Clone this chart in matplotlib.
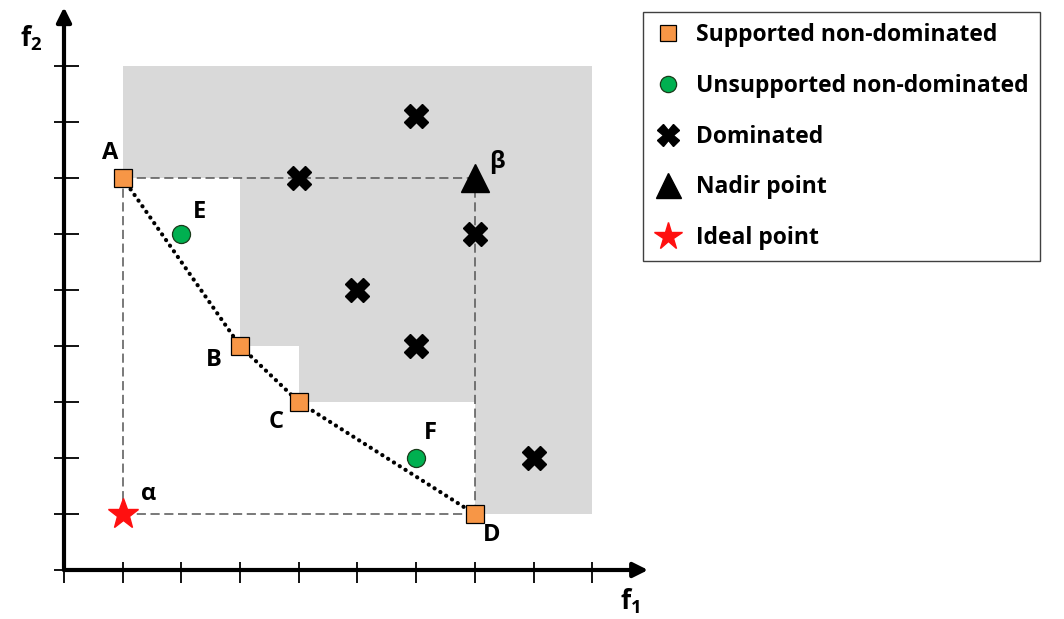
import matplotlib
matplotlib.use('Agg')
import matplotlib.pyplot as plt

plt.rcParams['font.family'] = ['Open Sans', 'DejaVu Sans']
plt.rcParams['font.weight'] = 'bold'
plt.rcParams['mathtext.fontset'] = 'custom'
plt.rcParams['mathtext.bf'] = 'Open Sans:bold'
plt.rcParams['mathtext.rm'] = 'Open Sans:bold'

# supported non-dominated points A, B, C, D
sup_names = ['A', 'B', 'C', 'D']
sup_x = [1, 3, 4, 7]
sup_y = [7, 4, 3, 1]

# unsupported non-dominated points E, F
uns_names = ['E', 'F']
uns_x = [2, 6]
uns_y = [6, 2]

# dominated points
dom_x = [6, 4, 7, 5, 6, 8]
dom_y = [8.1, 7, 6, 5, 4, 2]

# nadir (beta) and ideal (alpha) points
nadir = (7, 7)
ideal = (1, 1)

# upper bound of the shaded dominated area
upper = 9

orange = '#F79646'
green = '#00B050'
grey = '#D9D9D9'

fig = plt.figure(figsize=(10.64, 6.19), dpi=100)
ax = fig.add_axes([0, 0, 1, 1])
ax.set_xlim(-64 / 58.7, 1000 / 58.7)
ax.set_ylim(-49 / 56, 570 / 56)
ax.axis('off')

# shaded region dominated by the supported points (staircase)
px = [sup_x[0]]
py = [sup_y[0]]
for i in range(1, len(sup_x)):
    px += [sup_x[i], sup_x[i]]
    py += [sup_y[i - 1], sup_y[i]]
px += [upper, upper, sup_x[0]]
py += [sup_y[-1], upper, upper]
ax.fill(px, py, color=grey, lw=0, zorder=1)

# axes with arrows
ax.annotate('', xy=(9.95, 0), xytext=(0, 0),
            arrowprops=dict(arrowstyle='-|>', lw=3, color='black', mutation_scale=22,
                            shrinkA=0, shrinkB=0), zorder=5)
ax.annotate('', xy=(0, 10.05), xytext=(0, 0),
            arrowprops=dict(arrowstyle='-|>', lw=3, color='black', mutation_scale=22,
                            shrinkA=0, shrinkB=0), zorder=5)
ticks = list(range(1, 10))
ax.vlines(ticks, -0.23, 0.14, color='black', lw=1.3, zorder=5)
ax.vlines([0], -0.23, 0, color='black', lw=1.3, zorder=5)
ax.hlines(ticks, -0.17, 0.25, color='black', lw=1.3, zorder=5)
ax.hlines([0], -0.17, 0, color='black', lw=1.3, zorder=5)
ax.text(-0.55, 9.5, r'$\mathbf{f_2}$', fontsize=19, ha='center', va='center')
ax.text(9.65, -0.55, r'$\mathbf{f_1}$', fontsize=19, ha='center', va='center')

# dashed box between ideal and nadir
dash = dict(color='#555555', lw=1.1, dashes=(6, 3), zorder=2)
ax.plot([ideal[0], ideal[0]], [ideal[1], nadir[1]], **dash)
ax.plot([ideal[0], nadir[0]], [nadir[1], nadir[1]], **dash)
ax.plot([ideal[0], nadir[0]], [ideal[1], ideal[1]], **dash)
ax.plot([nadir[0], nadir[0]], [ideal[1], nadir[1]], **dash)

# dotted convex hull through supported points
ax.plot(sup_x, sup_y, color='black', lw=3.0, linestyle=(0, (0.05, 1.6)),
        dash_capstyle='round', zorder=3)

h1, = ax.plot(sup_x, sup_y, 's', ms=13, mfc=orange, mec='black', mew=0.9, ls='none',
              zorder=6, label='Supported non-dominated')
h2, = ax.plot(uns_x, uns_y, 'o', ms=13, mfc=green, mec='#1a3a1a', mew=0.9, ls='none',
              zorder=6, label='Unsupported non-dominated')
h3, = ax.plot(dom_x, dom_y, 'X', ms=17, color='black', mec='black', ls='none',
              zorder=6, label='Dominated')
h4, = ax.plot([nadir[0]], [nadir[1]], '^', ms=20, color='black', ls='none',
              zorder=6, label='Nadir point')
h5, = ax.plot([ideal[0]], [ideal[1]], '*', ms=23, color='#FF1010', mec='#FF1010',
              ls='none', zorder=6, label='Ideal point')

# point labels
lab_off = {'A': (-0.22, 0.45), 'B': (-0.45, -0.25), 'C': (-0.38, -0.36),
           'D': (0.29, -0.37), 'E': (0.3, 0.4), 'F': (0.25, 0.45)}
for n, x, y in zip(sup_names + uns_names, sup_x + uns_x, sup_y + uns_y):
    dx, dy = lab_off[n]
    ax.text(x + dx, y + dy, n, fontsize=17, ha='center', va='center')
ax.text(ideal[0] + 0.45, ideal[1] + 0.36, 'α', fontsize=17, ha='center', va='center')
ax.text(nadir[0] + 0.38, nadir[1] + 0.29, 'β', fontsize=17, ha='center', va='center')

leg = fig.legend(handles=[h1, h2, h3, h4, h5], loc='upper left',
                 bbox_to_anchor=(643 / 1064, 1 - 12 / 619), borderaxespad=0,
                 fancybox=False, framealpha=1, edgecolor='#404040',
                 prop=dict(size=16.5, weight='bold'), labelspacing=1.16,
                 handlelength=1.2, handletextpad=0.6, borderpad=0.5)
leg.get_frame().set_linewidth(1.0)
for h in leg.legend_handles:
    h.set_markersize(h.get_markersize() * 0.9)

fig.savefig('out.png', dpi=100)
